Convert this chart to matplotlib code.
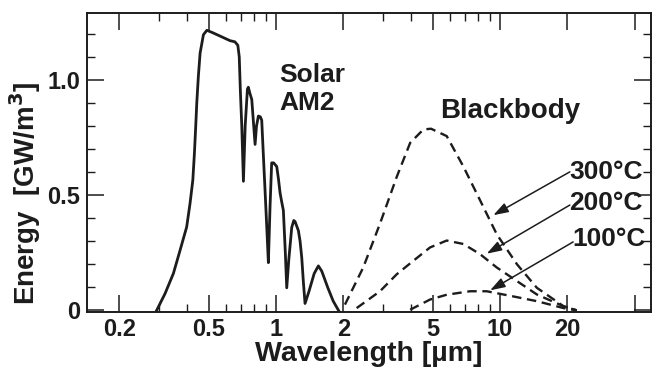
import matplotlib
matplotlib.use("Agg")
import matplotlib.pyplot as plt
from matplotlib.ticker import FixedLocator, FixedFormatter, MultipleLocator

# Solar AM2 spectrum (wavelength in um, energy in GW/m^3)
solar_wl = [0.293, 0.3195, 0.348, 0.3726, 0.399, 0.413, 0.425, 0.432, 0.4378, 0.4426,
            0.4498, 0.458, 0.474, 0.491, 0.52, 0.562, 0.623, 0.655, 0.675, 0.685,
            0.693, 0.703, 0.715, 0.728, 0.745, 0.752, 0.765, 0.779, 0.792, 0.806,
            0.818, 0.834, 0.850, 0.863, 0.877, 0.893, 0.909, 0.924, 0.940, 0.956,
            0.975, 1.007, 1.025, 1.042, 1.06, 1.078, 1.10, 1.116, 1.14, 1.175,
            1.20, 1.216, 1.258, 1.28, 1.302, 1.325, 1.347, 1.40, 1.48, 1.545,
            1.60, 1.70, 1.80, 1.90]
solar_e = [0.0, 0.073, 0.16, 0.26, 0.362, 0.464, 0.565, 0.681, 0.797, 0.899,
           1.014, 1.116, 1.196, 1.215, 1.205, 1.19, 1.17, 1.165, 1.15, 1.10,
           0.95, 0.80, 0.56, 0.80, 0.96, 0.968, 0.94, 0.915, 0.82, 0.72,
           0.80, 0.843, 0.84, 0.825, 0.68, 0.52, 0.36, 0.207, 0.45, 0.64,
           0.64, 0.624, 0.57, 0.51, 0.47, 0.434, 0.25, 0.098, 0.22, 0.36,
           0.39, 0.385, 0.346, 0.30, 0.23, 0.12, 0.03, 0.08, 0.16, 0.193,
           0.17, 0.10, 0.04, 0.0]

# Blackbody curves
bb300_wl = [2.03, 2.45, 2.91, 3.46, 3.97, 4.55, 4.92, 5.78, 6.86, 8.14, 9.67, 11.9, 14.6, 19.2, 22]
bb300_e = [0.025, 0.186, 0.376, 0.58, 0.727, 0.785, 0.788, 0.756, 0.624, 0.478, 0.33, 0.2, 0.098, 0.018, 0.0]
bb200_wl = [2.29, 2.91, 3.46, 4.10, 4.87, 5.78, 6.86, 8.14, 9.67, 11.9, 14.6, 19.2, 22]
bb200_e = [0.01, 0.083, 0.157, 0.215, 0.273, 0.303, 0.288, 0.244, 0.186, 0.127, 0.069, 0.018, 0.0]
bb100_wl = [3.97, 4.87, 5.78, 7.35, 8.72, 11.4, 14.6, 19.2, 22]
bb100_e = [0.003, 0.047, 0.068, 0.083, 0.083, 0.061, 0.04, 0.01, 0.0]

x_major = [0.2, 0.5, 1, 2, 5, 10, 20, 40]
x_major_labels = ["0.2", "0.5", "1", "2", "5", "10", "20", ""]
x_minor = [0.3, 0.4, 0.6, 0.7, 0.8, 0.9, 3, 4, 6, 7, 8, 9]
y_major = [0, 0.5, 1.0]
y_major_labels = ["0", "0.5", "1.0"]

ink = "#1c1c1c"
plt.rcParams["font.family"] = ["Liberation Sans", "DejaVu Sans"]
plt.rcParams["font.weight"] = "bold"
plt.rcParams["axes.labelweight"] = "bold"

fig = plt.figure(figsize=(6.52, 3.72), dpi=100)
ax = fig.add_axes([87 / 652, 1 - 312 / 372, 564 / 652, 299 / 372])

ax.plot(solar_wl, solar_e, color=ink, lw=2.0, solid_joinstyle="round")
dash = (0, (4, 2.4))
for wl, e in [(bb300_wl, bb300_e), (bb200_wl, bb200_e), (bb100_wl, bb100_e)]:
    ax.plot(wl, e, color=ink, lw=1.7, linestyle=dash)

ax.set_xscale("log")
ax.set_xlim(0.1432, 47.2)
ax.set_ylim(-0.007, 1.29)

ax.xaxis.set_major_locator(FixedLocator(x_major))
ax.xaxis.set_major_formatter(FixedFormatter(x_major_labels))
ax.xaxis.set_minor_locator(FixedLocator(x_minor))
ax.xaxis.set_minor_formatter(FixedFormatter([""] * len(x_minor)))
ax.yaxis.set_major_locator(FixedLocator(y_major))
ax.yaxis.set_major_formatter(FixedFormatter(y_major_labels))
ax.yaxis.set_minor_locator(MultipleLocator(0.1))

ax.tick_params(which="both", direction="in", top=True, right=True, color=ink,
               labelcolor=ink, labelsize=17)
ax.tick_params(which="major", length=12, width=1.1)
ax.tick_params(which="minor", length=6, width=1.0)
ax.tick_params(axis="x", pad=4)
ax.tick_params(axis="y", pad=5)
for s in ax.spines.values():
    s.set_linewidth(1.4)
    s.set_color(ink)

ax.set_xlabel("Wavelength [µm]", fontsize=20.5, color=ink, labelpad=0)
ax.set_ylabel("Energy  [GW/m$^\\mathbf{3}$]", fontsize=20, color=ink)
ax.yaxis.set_label_coords(-0.078, 0.398)

ax.text(1.03, 0.991, "Solar", fontsize=19, color=ink, va="baseline", ha="left")
ax.text(1.03, 0.870, "AM2", fontsize=19, color=ink, va="baseline", ha="left")
ax.text(5.4, 0.835, "Blackbody", fontsize=20, color=ink, va="baseline", ha="left")

# temperature labels with arrows to each curve
labels = ["300°C", "200°C", "100°C"]
label_pos = [(20.3, 0.60), (20.3, 0.465), (21.0, 0.31)]
arrow_start = [(20.5, 0.601), (20.5, 0.457), (21.2, 0.297)]
arrow_tip = [(9.33, 0.413), (8.72, 0.246), (9.03, 0.087)]
for lab, pos, st, tip in zip(labels, label_pos, arrow_start, arrow_tip):
    ax.text(pos[0], pos[1], lab, fontsize=19, color=ink, va="center", ha="left")
    ax.annotate("", xy=tip, xytext=st,
                arrowprops=dict(arrowstyle="-|>,head_length=0.9,head_width=0.3",
                                color=ink, lw=1.1, shrinkA=0, shrinkB=0))

fig.savefig("out.png", dpi=100)
